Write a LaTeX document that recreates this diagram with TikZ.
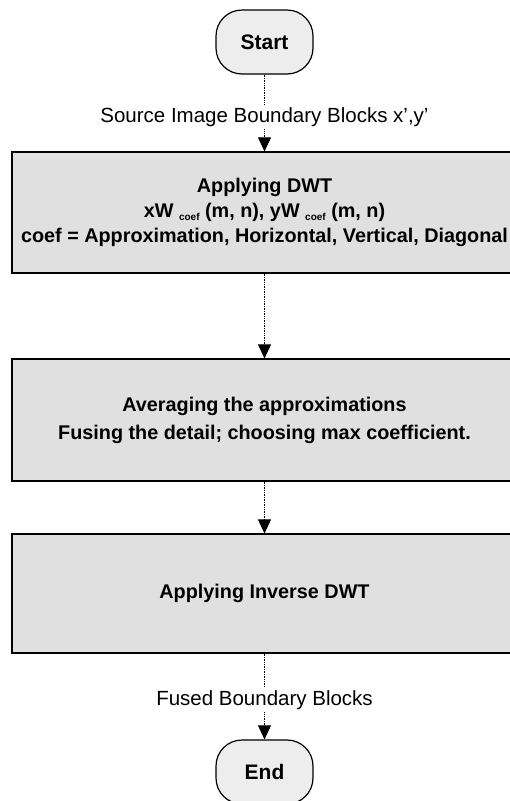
\documentclass[tikz,border=0pt]{standalone}
\usepackage{fontspec}
\setmainfont{Liberation Sans}
\usetikzlibrary{arrows.meta}
% small lowered index used after the wavelet symbols
\newcommand\subcoef{\raisebox{-3pt}{\fontsize{10}{10}\selectfont\bfseries coef}}

\begin{document}
\begin{tikzpicture}[x=1pt,y=-1pt,
  terminal/.style={draw, line width=1.2pt, rounded corners=26pt, fill=gray!14,
    minimum width=97pt, minimum height=64pt, inner sep=0pt,
    font=\fontsize{21}{24}\selectfont\bfseries},
  stepbox/.style={draw, line width=1.2pt, fill=gray!24, minimum width=505pt,
    inner sep=0pt, align=center, font=\fontsize{19.8}{25}\selectfont\bfseries},
  flowlabel/.style={inner xsep=2pt, inner ysep=3pt, font=\fontsize{20.5}{24}\selectfont},
  link/.style={line width=0.7pt, densely dotted},
  flow/.style={link, -{Triangle[width=13pt,length=14pt]}}]

\useasboundingbox (0,0) rectangle (510,801);
\clip (0,0) rectangle (510,801);

% blocks of the fusion procedure
\node[terminal] (start) at (264.5,42) {Start};
\node[flowlabel, anchor=base] (src) at (264.5,122) {Source Image Boundary Blocks x’,y’};
\node[stepbox, minimum height=121pt] (dwt) at (264.5,212.5)
  {Applying DWT\\ xW \subcoef{} (m, n), yW \subcoef{} (m, n)\\
   coef = Approximation, Horizontal, Vertical, Diagonal};
\node[stepbox, minimum height=122pt, font=\fontsize{19.8}{28}\selectfont\bfseries] (avg) at (264.5,420)
  {Averaging the approximations\\ Fusing the detail; choosing max coefficient.};
\node[stepbox, minimum height=119pt] (idwt) at (264.5,593.5) {Applying Inverse DWT};
\node[flowlabel, anchor=base] (fused) at (264.5,705) {Fused Boundary Blocks};
\node[terminal] (end) at (264.5,772) {End};

% connectors
\draw[link] (start) -- (src);
\draw[flow] (src) -- (dwt);
\draw[flow] (dwt) -- (avg);
\draw[flow] (avg) -- (idwt);
\draw[link] (idwt) -- (fused);
\draw[flow] (fused) -- (end);
\end{tikzpicture}
\end{document}
